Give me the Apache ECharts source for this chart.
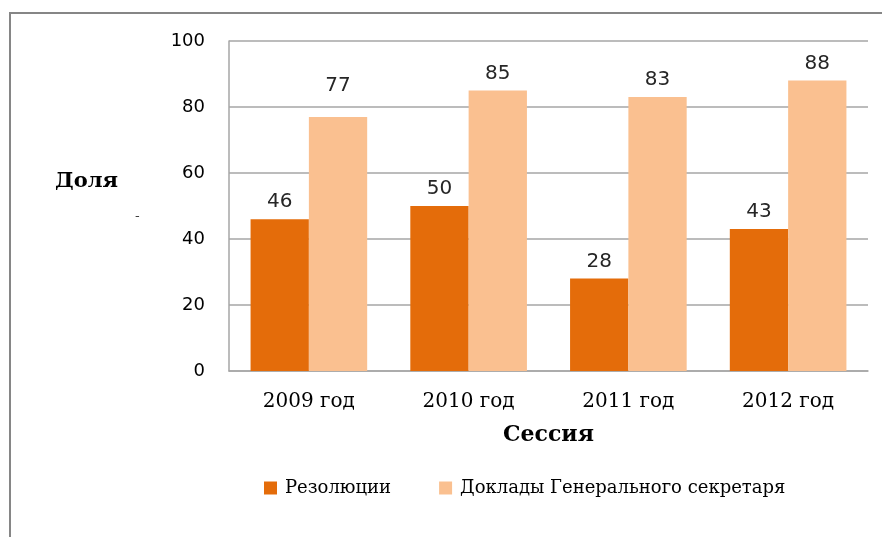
<!DOCTYPE html>
<html lang="ru">
<head>
    <meta charset="UTF-8" />
    <title>Доля</title>
    <style>
        body {
            margin: 0;
            padding: 0;
            background: #fff;
        }
        .frame {
            position: absolute;
            left: 9px;
            top: 12px;
            width: 873px;
            height: 525px;
            border-top: 2px solid #868686;
            border-left: 2px solid #868686;
        }
        .chart {
            width: 882px;
            height: 537px;
            position: absolute;
            left: 0;
            top: 0;
        }
    </style>
</head>
<body>
<div class="frame"></div>
<div class="chart"></div>
<script src="https://cdn.jsdelivr.net/npm/echarts@6/dist/echarts.min.js"></script>
<script>
    // данные
    const years = ['2009 год', '2010 год', '2011 год', '2012 год'];
    const resolutions = [46, 50, 28, 43];
    const reports = [77, 85, 83, 88];
    const yTicks = [0, 20, 40, 60, 80, 100];

    const sans = '"DejaVu Sans", sans-serif';
    const serif = '"DejaVu Serif", serif';

    const labelStyle = { show: true, position: 'top', distance: 7, fontFamily: sans, fontSize: 20, color: '#262626' };

    // подпись 77 в оригинале сдвинута выше
    const reportsData = reports.map((v, i) => i === 0 ? { value: v, label: { offset: [0, -14] } } : v);

    const chart = echarts.init(document.querySelector('.chart'));
    const option = {
        animation: false,
        grid: { left: 229, top: 41, right: 14, bottom: 166 },
        xAxis: {
            type: 'category',
            data: years,
            name: 'Сессия',
            nameLocation: 'middle',
            nameGap: 53,
            nameTextStyle: { fontFamily: serif, fontWeight: 'bold', fontSize: 22, color: '#000' },
            axisLine: { lineStyle: { color: '#a6a6a6', width: 1.5 } },
            axisTick: { show: false },
            axisLabel: { fontFamily: serif, fontSize: 20, color: '#000', margin: 21 }
        },
        yAxis: {
            type: 'value',
            min: yTicks[0],
            max: yTicks[yTicks.length - 1],
            interval: 20,
            axisLine: { show: true, lineStyle: { color: '#a6a6a6', width: 1.5 } },
            axisTick: { show: false },
            splitLine: { lineStyle: { color: '#a6a6a6', width: 1.5 } },
            axisLabel: { fontFamily: sans, fontSize: 18, color: '#000', margin: 24 }
        },
        legend: {
            top: 479,
            left: 264,
            padding: 0,
            itemWidth: 13,
            itemHeight: 13,
            itemGap: 48,
            icon: 'rect',
            textStyle: { fontFamily: serif, fontSize: 18, color: '#000', padding: [0, 0, 0, 3] }
        },
        graphic: [
            {
                type: 'text', left: 55, top: 171,
                style: { text: 'Доля', font: 'bold 21px ' + serif, fill: '#000' }
            },
            {
                type: 'text', left: 135, top: 210,
                style: { text: '-', font: '13px ' + sans, fill: '#404040' }
            }
        ],
        series: [
            {
                name: 'Резолюции',
                type: 'bar',
                data: resolutions,
                barGap: 0,
                barCategoryGap: '27%',
                itemStyle: { color: '#E46C0A' },
                label: labelStyle
            },
            {
                name: 'Доклады Генерального секретаря',
                type: 'bar',
                data: reportsData,
                itemStyle: { color: '#FAC090' },
                label: labelStyle
            }
        ]
    };
    chart.setOption(option);
</script>
</body>
</html>
